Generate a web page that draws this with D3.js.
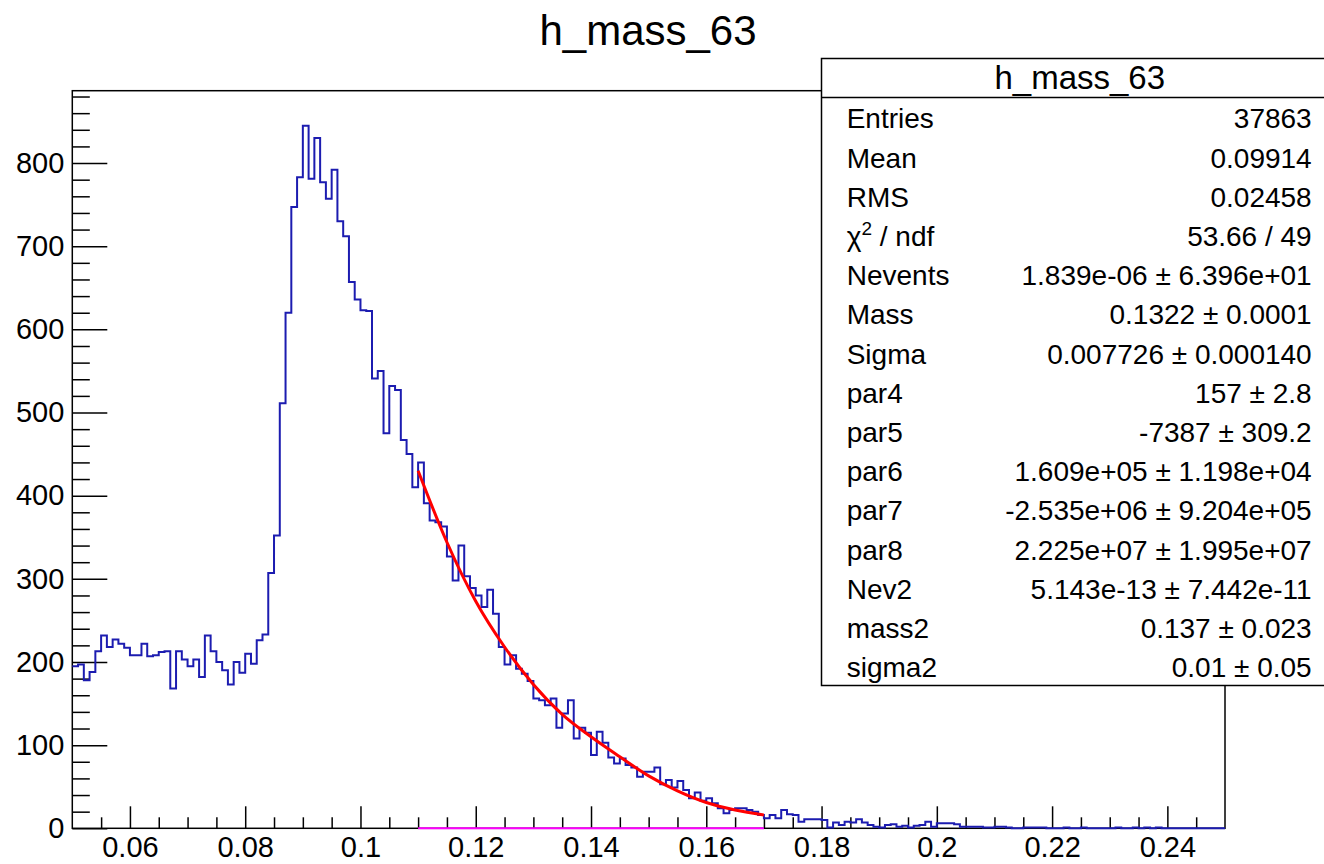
<!DOCTYPE html>
<html>
<head>
<meta charset="utf-8">
<script src="https://cdn.jsdelivr.net/npm/d3@7"></script>
<style>
  body { margin: 0; background: #fff; }
  svg { display: block; font-family: "Liberation Sans", Arial, Helvetica, sans-serif; }
</style>
</head>
<body>
<svg id="chart"></svg>
<script>
const width = 1324;
const height = 864;

// histogram h_mass_63 : 200 bins from 0.05 to 0.25
const binLow = 0.05;
const binWidth = 0.001;
const counts = [
  195, 197, 178, 188, 213, 232, 218, 227, 222, 217,
  208, 208, 222, 207, 208, 212, 213, 168, 213, 203,
  195, 203, 182, 232, 213, 200, 190, 173, 200, 187,
  210, 198, 226, 233, 307, 352, 511, 620, 747, 783,
  845, 781, 830, 777, 757, 792, 730, 712, 657, 636,
  623, 622, 541, 550, 475, 532, 527, 467, 450, 410,
  440, 391, 370, 368, 363, 327, 298, 340, 303, 289,
  280, 266, 287, 258, 218, 197, 208, 192, 186, 177,
  156, 154, 148, 156, 121, 138, 154, 108, 121, 115,
  88, 116, 103, 85, 78, 84, 76, 73, 62, 68,
  68, 73, 53, 58, 49, 57, 46, 36, 43, 33,
  36, 30, 24, 18, 22, 24, 24, 22, 20, 16,
  12, 16, 12, 22, 17, 16, 8, 11, 11, 11,
  10, 1, 7, 4, 8, 7, 11, 7, 4, 2,
  1, 4, 5, 2, 3, 1, 3, 4, 8, 2,
  6, 6, 6, 5, 2, 2, 2, 2, 1, 1,
  2, 2, 1, 0, 0, 1, 1, 1, 1, 0,
  0, 0, 1, 0, 0, 1, 0, 0, 0, 0,
  0, 1, 0, 0, 1, 0, 1, 0, 1, 0,
  0, 0, 0, 0, 0, 0, 0, 0, 0, 0
];

// fitted background curve
const fitX = [0.110, 0.115, 0.120, 0.125, 0.130, 0.135, 0.140, 0.145, 0.150, 0.155, 0.160, 0.165, 0.170];
const fitY = [430, 344, 273, 218, 173, 137, 110, 86, 63, 45, 31, 22, 16];
// second component, flat on zero over the fit range
const compX = [0.110, 0.170];
const compY = [0, 0];

const xTicks = [0.06, 0.08, 0.10, 0.12, 0.14, 0.16, 0.18, 0.20, 0.22, 0.24];
const xTickLabels = ['0.06', '0.08', '0.1', '0.12', '0.14', '0.16', '0.18', '0.2', '0.22', '0.24'];
const xMinor = [0.055, 0.065, 0.07, 0.075, 0.085, 0.09, 0.095, 0.105, 0.11, 0.115, 0.125, 0.13, 0.135,
  0.145, 0.15, 0.155, 0.165, 0.17, 0.175, 0.185, 0.19, 0.195, 0.205, 0.21, 0.215, 0.225, 0.23, 0.235, 0.245];
const yTicks = [0, 100, 200, 300, 400, 500, 600, 700, 800];
const yMinor = [20, 40, 60, 80, 120, 140, 160, 180, 220, 240, 260, 280, 320, 340, 360, 380,
  420, 440, 460, 480, 520, 540, 560, 580, 620, 640, 660, 680, 720, 740, 760, 780, 820, 840, 860, 880];

const statLabels = ['Entries', 'Mean', 'RMS', 'chi2', 'Nevents', 'Mass', 'Sigma', 'par4', 'par5',
  'par6', 'par7', 'par8', 'Nev2', 'mass2', 'sigma2'];
const statValues = ['37863', '0.09914', '0.02458', '53.66 / 49', '1.839e-06 \u00b1 6.396e+01',
  '0.1322 \u00b1 0.0001', '0.007726 \u00b1 0.000140', '157 \u00b1 2.8', '-7387 \u00b1 309.2',
  '1.609e+05 \u00b1 1.198e+04', '-2.535e+06 \u00b1 9.204e+05', '2.225e+07 \u00b1 1.995e+07',
  '5.143e-13 \u00b1 7.442e-11', '0.137 \u00b1 0.023', '0.01 \u00b1 0.05'];

const frame = { left: 72.3, right: 1225, top: 90.7, bottom: 828.3 };

const svg = d3.select('#chart')
  .attr('width', width)
  .attr('height', height)

const x = d3.scaleLinear()
  .domain([0.05, 0.25])
  .range([frame.left, frame.right])

const y = d3.scaleLinear()
  .domain([0, 887])
  .range([frame.bottom, frame.top])

// title
svg.append('text')
  .attr('x', 648)
  .attr('y', 45)
  .attr('text-anchor', 'middle')
  .style('font-size', '42px')
  .text('h_mass_63')

// axes (ticks point inward like ROOT)
const xMajorAxis = d3.axisBottom(x).tickValues(xTicks).tickSize(-22).tickPadding(8)
  .tickFormat((d, i) => xTickLabels[i])
const xMinorAxis = d3.axisBottom(x).tickValues(xMinor).tickSize(-11).tickFormat('')
const yMajorAxis = d3.axisLeft(y).tickValues(yTicks).tickSize(-35).tickPadding(8)
const yMinorAxis = d3.axisLeft(y).tickValues(yMinor).tickSize(-17.5).tickFormat('')

function styleAxis(g) {
  g.select('.domain').remove()
  g.selectAll('line').attr('stroke', '#000').attr('stroke-width', 1.5)
  g.selectAll('text')
    .attr('fill', '#000')
    .style('font-family', '"Liberation Sans", Arial, Helvetica, sans-serif')
    .style('font-size', '29px')
}

svg.append('g').attr('transform', `translate(0,${frame.bottom})`).call(xMinorAxis).call(styleAxis)
svg.append('g').attr('transform', `translate(0,${frame.bottom})`).call(xMajorAxis).call(styleAxis)
svg.append('g').attr('transform', `translate(${frame.left},0)`).call(yMinorAxis).call(styleAxis)
svg.append('g').attr('transform', `translate(${frame.left},0)`).call(yMajorAxis).call(styleAxis)

// frame
svg.append('rect')
  .attr('x', frame.left)
  .attr('y', frame.top)
  .attr('width', frame.right - frame.left)
  .attr('height', frame.bottom - frame.top)
  .attr('fill', 'none')
  .attr('stroke', '#000')
  .attr('stroke-width', 1.5)

// histogram outline
const steps = []
counts.forEach((c, i) => {
  steps.push([binLow + i * binWidth, c])
  steps.push([binLow + (i + 1) * binWidth, c])
})

const line = d3.line()
  .x(d => x(d[0]))
  .y(d => y(d[1]))

svg.append('path')
  .datum(steps)
  .attr('d', line)
  .attr('fill', 'none')
  .attr('stroke', '#1c1cb0')
  .attr('stroke-width', 2)

// fit curves
svg.append('path')
  .datum(compX.map((d, i) => [d, compY[i]]))
  .attr('d', line)
  .attr('fill', 'none')
  .attr('stroke', '#ff00ff')
  .attr('stroke-width', 2)

svg.append('path')
  .datum(fitX.map((d, i) => [d, fitY[i]]))
  .attr('d', line.curve(d3.curveMonotoneX))
  .attr('fill', 'none')
  .attr('stroke', '#ff0000')
  .attr('stroke-width', 3)

// stats box
const box = { left: 821.5, top: 58.5, right: 1338, bottom: 685.5, header: 97.5 }
const stats = svg.append('g')

stats.append('rect')
  .attr('x', box.left)
  .attr('y', box.top)
  .attr('width', box.right - box.left)
  .attr('height', box.bottom - box.top)
  .attr('fill', '#fff')
  .attr('stroke', '#000')
  .attr('stroke-width', 1.5)

stats.append('line')
  .attr('x1', box.left).attr('x2', box.right)
  .attr('y1', box.header).attr('y2', box.header)
  .attr('stroke', '#000')
  .attr('stroke-width', 1.5)

stats.append('text')
  .attr('x', (box.left + box.right) / 2)
  .attr('y', 89)
  .attr('text-anchor', 'middle')
  .style('font-size', '33px')
  .text('h_mass_63')

const rowPitch = (box.bottom - box.header) / statLabels.length

statLabels.forEach((label, i) => {
  const by = 128.3 + i * rowPitch
  const t = stats.append('text')
    .attr('x', 846.7)
    .attr('y', by)
    .style('font-size', '28px')
  if (label === 'chi2') {
    t.append('tspan').text('\u03c7')
    t.append('tspan').attr('dy', -11).style('font-size', '19px').text('2')
    t.append('tspan').attr('dy', 11).text(' / ndf')
  } else {
    t.text(label)
  }
  stats.append('text')
    .attr('x', 1311.7)
    .attr('y', by)
    .attr('text-anchor', 'end')
    .style('font-size', '28px')
    .text(statValues[i])
})
</script>
</body>
</html>
